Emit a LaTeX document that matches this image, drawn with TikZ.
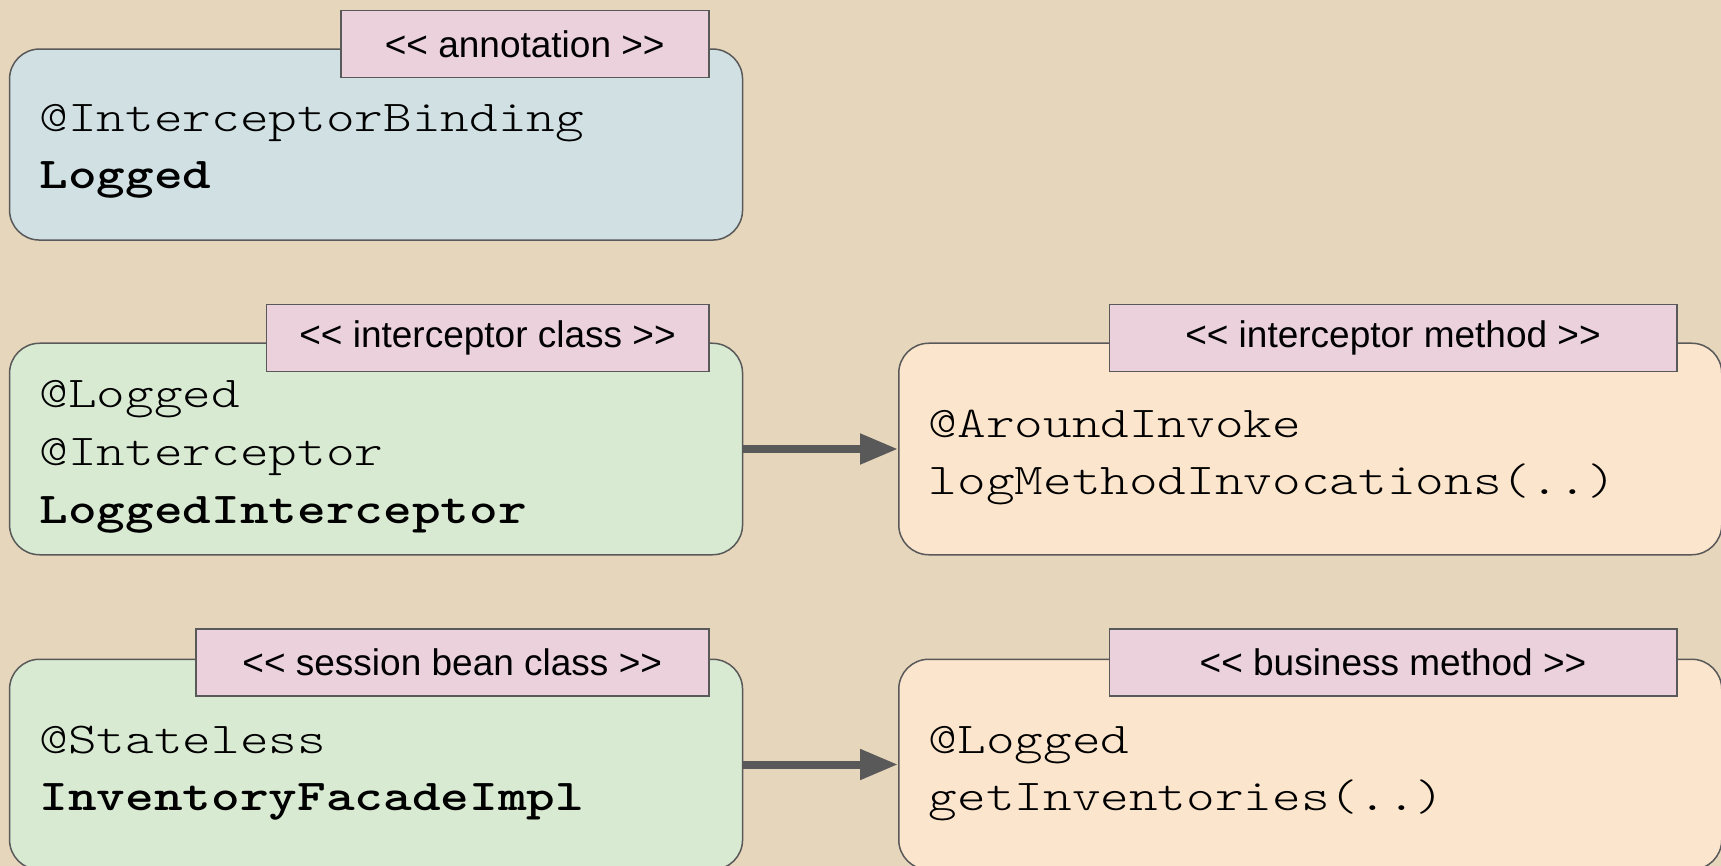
\documentclass[tikz,border=0pt]{standalone}
\usepackage{fontspec}
\newfontfamily\tagfont{Liberation Sans}
\newfontfamily\codefont{lmmonolt10-regular.otf}[FakeStretch=1.24]
\newfontfamily\codeboldfont{lmmonolt10-bold.otf}[FakeStretch=1.24]
\usetikzlibrary{arrows.meta}
\definecolor{bgc}{HTML}{E6D6BC}
\definecolor{bluec}{HTML}{D0E0E3}
\definecolor{greenc}{HTML}{D9EAD3}
\definecolor{orangec}{HTML}{FCE5CD}
\definecolor{tagc}{HTML}{EAD1DC}
\definecolor{linec}{HTML}{595959}
\newcommand\myltlt{<\kern0pt<}
\newcommand\mygtgt{>\kern0pt>}
\tikzset{
  boxnode/.style={draw=linec, line width=1.5pt, rounded corners=30pt, rectangle, anchor=north west, inner sep=0pt},
  tagnode/.style={draw=linec, line width=1.5pt, fill=tagc, rectangle, anchor=north west, inner sep=0pt, font=\tagfont\fontsize{37pt}{44pt}\selectfont},
  codetext/.style={anchor=base west, inner sep=0pt, text=black, font=\codefont\fontsize{44pt}{56pt}\selectfont},
  boldtext/.style={anchor=base west, inner sep=0pt, text=black, font=\codeboldfont\fontsize{44pt}{56pt}\selectfont},
  conn/.style={draw=linec, line width=8pt, -{Triangle[length=38pt,width=29pt]}}
}
\begin{document}
\begin{tikzpicture}[x=1pt,y=-1pt]
\useasboundingbox (0,0) rectangle (1721,866);
\fill[bgc] (0,0) rectangle (1721,866);
\clip (0,0) rectangle (1721,866);

% box 1
\node[boxnode, fill=bluec, minimum width=733pt, minimum height=191pt] (b1) at (8.8,48.3) {};
\node[tagnode, minimum width=368pt, minimum height=67pt] (t1) at (340,10) {\myltlt{} annotation \mygtgt};
\node[codetext] (b1l1) at (39.5,131.7) {@InterceptorBinding};
\node[boldtext] (b1l2) at (39.5,188.3) {Logged};

% box 2
\node[boxnode, fill=greenc, minimum width=733pt, minimum height=211.5pt] (b2) at (8.8,342.5) {};
\node[tagnode, minimum width=442.4pt, minimum height=67pt] (t2) at (265.6,304) {\myltlt{} interceptor class \mygtgt};
\node[codetext] (b2l1) at (39.5,407.3) {@Logged};
\node[codetext] (b2l2) at (39.5,465.5) {@Interceptor};
\node[boldtext] (b2l3) at (39.5,523) {LoggedInterceptor};

% box 3
\node[boxnode, fill=orangec, minimum width=823pt, minimum height=211.5pt] (b3) at (898,342.5) {};
\node[tagnode, minimum width=567.5pt, minimum height=67pt] (t3) at (1108.5,304) {\myltlt{} interceptor method \mygtgt};
\node[codetext] (b3l1) at (928.6,437.5) {@AroundInvoke};
\node[codetext] (b3l2) at (928.6,494.5) {logMethodInvocations(..)};

% box 4
\node[boxnode, fill=greenc, minimum width=733pt, minimum height=210.5pt] (b4) at (8.8,658.5) {};
\node[tagnode, minimum width=513pt, minimum height=67pt] (t4) at (195,628) {\myltlt{} session bean class \mygtgt};
\node[codetext] (b4l1) at (39.5,753) {@Stateless};
\node[boldtext] (b4l2) at (39.5,810) {InventoryFacadeImpl};

% box 5
\node[boxnode, fill=orangec, minimum width=823pt, minimum height=210.5pt] (b5) at (898,658.5) {};
\node[tagnode, minimum width=567.5pt, minimum height=67pt] (t5) at (1108.5,628) {\myltlt{} business method \mygtgt};
\node[codetext] (b5l1) at (928.6,753) {@Logged};
\node[codetext] (b5l2) at (928.6,810) {getInventories(..)};

% connectors
\draw[conn] (b2.east) -- (b3.west);
\draw[conn] (b4.east) -- (b4.east -| b5.west);
\end{tikzpicture}
\end{document}
